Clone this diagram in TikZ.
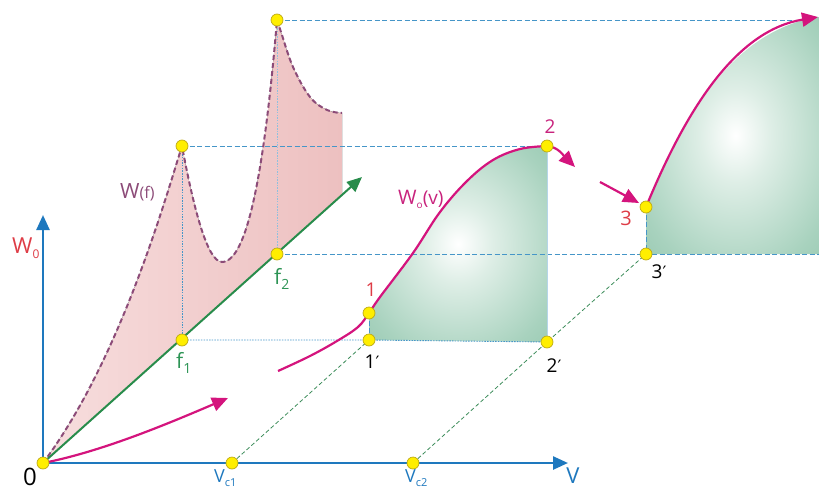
\documentclass[tikz,border=0pt]{standalone}
\usepackage{fontspec}
\setmainfont{Open Sans}
\newfontfamily\dvs{DejaVu Sans}
\usetikzlibrary{arrows.meta}
\definecolor{axblue}{RGB}{30,120,190}
\definecolor{guideblue}{RGB}{70,150,200}
\definecolor{gdashc}{RGB}{60,140,90}
\definecolor{gaxis}{RGB}{40,140,75}
\definecolor{magc}{RGB}{212,20,125}
\definecolor{wfc}{RGB}{140,75,120}
\definecolor{lblred}{RGB}{222,60,70}
\definecolor{lblmag}{RGB}{200,35,125}
\definecolor{lblgreen}{RGB}{45,148,85}
\definecolor{dotyel}{RGB}{255,238,0}
\definecolor{dotedge}{RGB}{190,170,20}
\definecolor{pinkL}{RGB}{247,222,222}
\definecolor{pinkM}{RGB}{252,242,242}
\definecolor{pinkR}{RGB}{237,192,192}
\pgfdeclareradialshading{greenglow}{\pgfpoint{0bp}{0bp}}{%
  color(0bp)=(rgb,255:red,255;green,255;blue,255);
  color(10bp)=(rgb,255:red,222;green,238;blue,230);
  color(30bp)=(rgb,255:red,168;green,210;blue,190);
  color(50bp)=(rgb,255:red,130;green,189;blue,161);
  color(72bp)=(rgb,255:red,110;green,177;blue,146)}
\newcommand\fsz[1]{\fontsize{#1}{#1}\selectfont}
\newcommand\lowsub[2]{\raisebox{-0.24em}{\fsz{#1}#2}}
\begin{document}
\begin{tikzpicture}[x=1pt,y=-1pt,
  lbl/.style={inner sep=0pt, anchor=base west},
  clbl/.style={inner sep=0pt, anchor=base},
  dot/.style={circle, fill=dotyel, draw=dotedge, line width=0.7pt, minimum size=12pt, inner sep=0pt},
  bdash/.style={draw=guideblue, line width=0.9pt, dash pattern=on 5pt off 2.5pt},
  bdot/.style={draw=guideblue, line width=0.9pt, dash pattern=on 1.5pt off 1.2pt},
  gdash/.style={draw=gdashc, line width=0.8pt, dash pattern=on 4pt off 2.5pt},
  mag/.style={draw=magc, line width=2.2pt},
  magtip/.style={-{Triangle[length=16pt,width=14pt]}},
  axtip/.style={-{Triangle[length=15pt,width=13pt]}},
  glow/.style={shading=greenglow}]
\useasboundingbox (0,0) rectangle (819,490);

% coordinates
\coordinate (cO) at (43,463);
\coordinate (cVc1) at (232,463);
\coordinate (cVc2) at (413,463);
\coordinate (cf1) at (182,340);
\coordinate (cf2) at (277,254);
\coordinate (cP1) at (182,146);
\coordinate (cP2) at (277,20);
\coordinate (c1) at (369,313);
\coordinate (c1p) at (369,340);
\coordinate (c2) at (547,146);
\coordinate (c2p) at (547,342);
\coordinate (c3) at (646,207);
\coordinate (c3p) at (646,254);
\coordinate (cWtip) at (43,215);
\coordinate (cVtip) at (568,463);
\coordinate (cFtip) at (362,177);
\coordinate (cTopEnd) at (805,20);
\coordinate (cMidEnd) at (825,254);
\coordinate (cTopTip) at (818,17);

% pink region
\fill[left color=pinkL, middle color=pinkM, right color=pinkR]
  (cO) .. controls (120,360) and (165,200) .. (cP1)
  .. controls (193,205) and (207,262) .. (222,262)
  .. controls (250,262) and (266,150) .. (cP2)
  -- plot[smooth, tension=0.6] coordinates {(277,20) (281,32) (293,67) (310,97) (327,110) (342,113)}
  -- (342,195) -- cycle;

% green regions
\shade[glow]
  (c1p) -- (c1)
  -- plot[smooth, tension=0.6] coordinates {(369,313) (380,297) (413,253) (440,212) (467,181) (493,160) (520,149) (547,146)}
  -- (c2p) -- cycle;
\shade[glow]
  (c3p) -- (c3) .. controls (690,100) and (740,30) .. (cTopTip) -- (825,17) -- (cMidEnd) -- cycle;

% guide lines
\draw[bdash] (cP1) -- (c2);
\draw[bdash] (cP2) -- (cTopEnd);
\draw[bdash] (cf2) -- (c3p) -- (cMidEnd);
\draw[bdot] (cP1) -- (cf1);
\draw[bdot, draw=guideblue!60] (cP2) -- (cf2);
\draw[bdot] (cf1) -- (c1p) -- (c2p);
\draw[bdash] (c1) -- (c1p);
\draw[bdash] (c3) -- (c3p);
\draw[guideblue!40, line width=0.6pt] (c2) -- (c2p);
\draw[gdash] (cVc1) -- (c1p);
\draw[gdash] (cVc2) -- (c2p) -- (c3p);

% W(f) curve
\draw[wfc, line width=2pt, dash pattern=on 5pt off 3pt]
  (cO) .. controls (120,360) and (165,200) .. (cP1)
  .. controls (193,205) and (207,262) .. (222,262)
  .. controls (250,262) and (266,150) .. (cP2)
  -- plot[smooth, tension=0.6] coordinates {(277,20) (281,32) (293,67) (310,97) (327,110) (342,113)};

% frequency axis
\draw[gaxis, line width=2pt, -{Triangle[length=15pt,width=13pt]}] (cO) -- (cFtip);

% main axes
\draw[axblue, line width=2.5pt, axtip] (cO) -- (cWtip);
\draw[axblue, line width=2.5pt, axtip] (cO) -- (cVtip);

% magenta curves
\draw[mag, magtip] (cO) .. controls (100,452) and (165,425) .. (228,398);
\draw[mag] plot[smooth, tension=0.6] coordinates {(278,371) (310,356) (337,341) (358,327) (369,313) (380,297) (413,253) (440,212) (467,181) (493,160) (520,149) (547,146)};
\draw[mag, magtip] (c2) .. controls (558,147) and (563,155) .. (575,167);
\draw[mag, magtip] (600,182) -- (639,203);
\draw[mag, magtip] (c3) .. controls (690,100) and (740,30) .. (cTopTip);

% dots
\foreach \p in {cO,cVc1,cVc2,cf1,cf2,cP1,cP2,c1,c1p,c2,c2p,c3,c3p}
  \node[dot] (d\p) at (\p) {};

% labels
\node[clbl] (l0) at (30,485) {\fsz{24}0};
\node[clbl, text=axblue] (lV) at (573,483) {\fsz{22}V};
\node[lbl, text=axblue] (lVc1) at (214,482) {\fsz{18}V\lowsub{11}{c1}};
\node[lbl, text=axblue] (lVc2) at (405,482) {\fsz{18}V\lowsub{11}{c2}};
\node[lbl, text=lblred] (lW0) at (12,253) {\fsz{22}W\lowsub{12}{0}};
\node[lbl, text=wfc] (lWf) at (120,198) {\fsz{21}W\fsz{16}(f)};
\node[lbl, text=lblmag] (lWv) at (398,204) {\fsz{20}W\lowsub{10}{o}\fsz{19}(v)};
\node[lbl, text=lblgreen] (lf1) at (176,368) {\fsz{21}f\lowsub{14}{1}};
\node[lbl, text=lblgreen] (lf2) at (274,284) {\fsz{21}f\lowsub{14}{2}};
\node[clbl, text=lblred] (l1) at (371,296) {\fsz{19}1};
\node[clbl, text=lblmag] (l2) at (550,133) {\fsz{19}2};
\node[clbl, text=lblred] (l3) at (626,225) {\fsz{20}3};
\node[clbl] (l1p) at (372,368) {\fsz{19}1{\dvs\fsz{17}′}};
\node[clbl] (l2p) at (554,372) {\fsz{19}2{\dvs\fsz{17}′}};
\node[clbl] (l3p) at (659,278) {\fsz{19}3{\dvs\fsz{17}′}};
\end{tikzpicture}
\end{document}
